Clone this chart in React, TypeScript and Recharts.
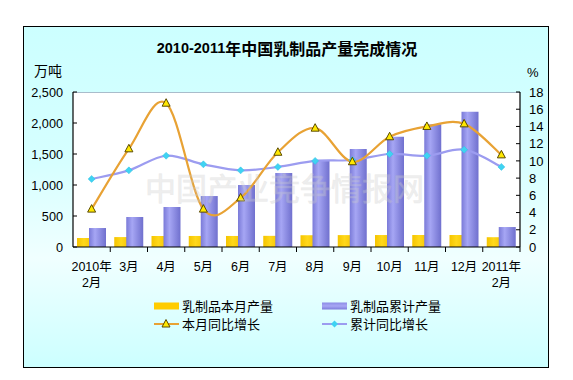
import React from 'react';
import { ComposedChart, Bar, Line, XAxis, YAxis } from 'recharts';

const months = ['2010年2月', '3月', '4月', '5月', '6月', '7月', '8月', '9月', '10月', '11月', '12月', '2011年2月'];
const monthlyOutput = [145, 160, 177, 178, 178, 180, 190, 192, 193, 194, 194, 158];
const cumulativeOutput = [306, 484, 645, 822, 1000, 1193, 1392, 1580, 1779, 1980, 2180, 322];
const monthlyGrowth = [4.4, 11.4, 16.7, 4.4, 5.7, 11.0, 13.8, 9.9, 12.8, 14.0, 14.3, 10.7];
const cumulativeGrowth = [7.9, 8.9, 10.6, 9.6, 8.9, 9.3, 10.0, 10.1, 10.8, 10.6, 11.3, 9.3];
const leftTicks = [0, 500, 1000, 1500, 2000, 2500];
const rightTicks = [0, 2, 4, 6, 8, 10, 12, 14, 16, 18];

const seriesNames = ['乳制品本月产量', '乳制品累计产量', '本月同比增长', '累计同比增长'];
const titleYears = '2010-2011';
const titleRest = '年中国乳制品产量完成情况';
const leftUnit = '万吨';
const rightUnit = '%';
const watermark = '中国产业竞争情报网';

const data = months.map((m, i) => ({
  month: m,
  monthly: monthlyOutput[i],
  cumulative: cumulativeOutput[i],
  mGrowth: monthlyGrowth[i],
  cGrowth: cumulativeGrowth[i],
}));

const FONT = '"Liberation Sans", Arial, "Noto Sans CJK SC", sans-serif';
const PLOT_L = 73;
const PLOT_R = 520;
const PLOT_T = 92;
const PLOT_B = 247;
const HALF_BAND = (PLOT_R - PLOT_L) / months.length / 2;

const ORANGE = '#E8A234';
const LAVENDER = '#9C9CF0';

// Catmull-Rom style smoothing (like Excel smoothed lines)
const smoothCurve: any = (context: any) => {
  let pts: number[][] = [];
  return {
    areaStart() {},
    areaEnd() {},
    lineStart() {
      pts = [];
    },
    point(x: number, y: number) {
      pts.push([+x, +y]);
    },
    lineEnd() {
      if (!pts.length) return;
      context.moveTo(pts[0][0], pts[0][1]);
      const t = 1 / 6;
      for (let i = 0; i < pts.length - 1; i++) {
        const p0 = pts[i - 1] || pts[i];
        const p1 = pts[i];
        const p2 = pts[i + 1];
        const p3 = pts[i + 2] || p2;
        context.bezierCurveTo(
          p1[0] + (p2[0] - p0[0]) * t,
          p1[1] + (p2[1] - p0[1]) * t,
          p2[0] - (p3[0] - p1[0]) * t,
          p2[1] - (p3[1] - p1[1]) * t,
          p2[0],
          p2[1]
        );
      }
    },
  };
};

const XTick = (props: any) => {
  const { x, y, payload } = props;
  const label = String(payload.value);
  const k = label.indexOf('年');
  const lines = k >= 0 ? [label.slice(0, k + 1), label.slice(k + 1)] : [label];
  return (
    <g>
      <line x1={x + HALF_BAND} x2={x + HALF_BAND} y1={y} y2={y + 5} stroke="#000" />
      {lines.map((l, i) => (
        <text key={i} x={x} y={y + 24 + i * 16} textAnchor="middle" fontSize={12.5} fontFamily={FONT} fill="#000">
          {l}
        </text>
      ))}
    </g>
  );
};

const LeftTick = (props: any) => {
  const { x, y, payload } = props;
  return (
    <g>
      <line x1={x} x2={x + 4} y1={y} y2={y} stroke="#000" />
      <text x={x - 10} y={y} dy="0.36em" textAnchor="end" fontSize={12.7} fontFamily={FONT} fill="#000">
        {Number(payload.value).toLocaleString('en-US')}
      </text>
    </g>
  );
};

const RightTick = (props: any) => {
  const { x, y, payload } = props;
  return (
    <g>
      <line x1={x - 4} x2={x} y1={y} y2={y} stroke="#000" />
      <text x={x + 9} y={y} dy="0.36em" textAnchor="start" fontSize={13} fontFamily={FONT} fill="#000">
        {payload.value}
      </text>
    </g>
  );
};

const TriangleDot = (props: any) => {
  const { cx, cy, index } = props;
  if (cx == null || cy == null) return <g key={index} />;
  return (
    <polygon
      key={index}
      points={`${cx},${cy - 4.5} ${cx - 4},${cy + 3} ${cx + 4},${cy + 3}`}
      fill="#FFE800"
      stroke="#5A4A00"
      strokeWidth={1}
    />
  );
};

const DiamondDot = (props: any) => {
  const { cx, cy, index } = props;
  if (cx == null || cy == null) return <g key={index} />;
  return (
    <polygon
      key={index}
      points={`${cx},${cy - 3.5} ${cx + 3.5},${cy} ${cx},${cy + 3.5} ${cx - 3.5},${cy}`}
      fill="#3FD3F2"
      stroke="#33C0E0"
      strokeWidth={0.5}
    />
  );
};

export default function App() {
  return (
    <div style={{ position: 'absolute', left: 0, top: 0, width: 573, height: 380, background: '#fff', overflow: 'hidden' }}>
      <div
        style={{
          position: 'absolute',
          left: 23,
          top: 26,
          width: 526,
          height: 342,
          boxSizing: 'border-box',
          border: '1.6px solid #000',
          background: 'linear-gradient(to bottom, #CCFFFF 0%, #D6FFFF 40%, #F0FFFF 68%, #E0FFFF 82%, #CCFFFF 100%)',
        }}
      />
      <div
        style={{
          position: 'absolute',
          left: PLOT_L,
          top: PLOT_T,
          width: PLOT_R - PLOT_L,
          height: PLOT_B - PLOT_T,
          background: '#fff',
          borderTop: '1px solid #A9BCCB',
          boxSizing: 'border-box',
        }}
      />
      <div style={{ position: 'absolute', left: 0, top: 0 }}>
        <ComposedChart
          width={573}
          height={380}
          data={data}
          margin={{ top: PLOT_T, right: 573 - PLOT_R - 50, bottom: 380 - PLOT_B - 40, left: PLOT_L - 50 }}
          barGap={-5}
        >
          <defs>
            <linearGradient id="purpleGrad" x1="0" y1="0" x2="1" y2="0">
              <stop offset="0%" stopColor="#7A7AD8" />
              <stop offset="35%" stopColor="#A6A6F4" />
              <stop offset="100%" stopColor="#7070CE" />
            </linearGradient>
            <linearGradient id="yellowGrad" x1="0" y1="0" x2="1" y2="0">
              <stop offset="0%" stopColor="#F5C400" />
              <stop offset="40%" stopColor="#FFD81A" />
              <stop offset="100%" stopColor="#F2C000" />
            </linearGradient>
          </defs>
          <XAxis
            dataKey="month"
            height={40}
            interval={0}
            axisLine={{ stroke: '#000', strokeWidth: 1.2 }}
            tickLine={false}
            tickSize={0}
            tickMargin={0}
            tick={<XTick />}
          />
          <YAxis
            yAxisId="left"
            orientation="left"
            width={50}
            domain={[0, 2500]}
            ticks={leftTicks}
            interval={0}
            axisLine={{ stroke: '#000', strokeWidth: 1.2 }}
            tickLine={false}
            tickSize={0}
            tickMargin={0}
            tick={<LeftTick />}
          />
          <YAxis
            yAxisId="right"
            orientation="right"
            width={50}
            domain={[0, 18]}
            ticks={rightTicks}
            interval={0}
            axisLine={{ stroke: '#000', strokeWidth: 1.2 }}
            tickLine={false}
            tickSize={0}
            tickMargin={0}
            tick={<RightTick />}
          />
          <Bar yAxisId="left" dataKey="monthly" name={seriesNames[0]} fill="url(#yellowGrad)" barSize={17} isAnimationActive={false} />
          <Bar yAxisId="left" dataKey="cumulative" name={seriesNames[1]} fill="url(#purpleGrad)" barSize={17} isAnimationActive={false} />
          <Line
            yAxisId="right"
            dataKey="cGrowth"
            name={seriesNames[3]}
            type={smoothCurve}
            stroke={LAVENDER}
            strokeWidth={2.2}
            dot={DiamondDot}
            activeDot={false}
            isAnimationActive={false}
          />
          <Line
            yAxisId="right"
            dataKey="mGrowth"
            name={seriesNames[2]}
            type={smoothCurve}
            stroke={ORANGE}
            strokeWidth={2.2}
            dot={TriangleDot}
            activeDot={false}
            isAnimationActive={false}
          />
        </ComposedChart>
      </div>
      <svg width={573} height={380} style={{ position: 'absolute', left: 0, top: 0, pointerEvents: 'none' }}>
        <text x={145} y={186} fontSize={31} fontFamily='"Noto Sans CJK SC", sans-serif' fill="#D0D0D0" stroke="#C4C4C4" strokeWidth={0.6} opacity={0.35} dominantBaseline="central">
          {watermark}
        </text>
        <text x={287} y={48} textAnchor="middle" dominantBaseline="central" fontWeight="bold" fill="#000">
          <tspan fontSize={14.5} fontFamily={FONT}>{titleYears}</tspan>
          <tspan fontSize={16} fontFamily='"Noto Sans CJK SC", sans-serif'>{titleRest}</tspan>
        </text>
        <text x={34} y={71} dominantBaseline="central" fontSize={14} fontFamily={FONT} fill="#000">
          {leftUnit}
        </text>
        <text x={527} y={72} dominantBaseline="central" fontSize={13} fontFamily={FONT} fill="#000">
          {rightUnit}
        </text>
        {/* legend */}
        <rect x={154} y={302.5} width={25} height={7} fill="#FFCC00" />
        <text x={182} y={306} dominantBaseline="central" fontSize={13} fontFamily={FONT} fill="#000">
          {seriesNames[0]}
        </text>
        <rect x={322} y={302.5} width={25} height={7} fill="url(#legendPurple)" />
        <defs>
          <linearGradient id="legendPurple" x1="0" y1="0" x2="0" y2="1">
            <stop offset="0%" stopColor="#8C8CE6" />
            <stop offset="50%" stopColor="#A8A8F4" />
            <stop offset="100%" stopColor="#7C7CDA" />
          </linearGradient>
        </defs>
        <text x={350} y={306} dominantBaseline="central" fontSize={13} fontFamily={FONT} fill="#000">
          {seriesNames[1]}
        </text>
        <line x1={154} x2={179} y1={324} y2={324} stroke={ORANGE} strokeWidth={2} />
        <polygon points="166,319.5 162,327 170,327" fill="#FFE800" stroke="#5A4A00" strokeWidth={1} />
        <text x={182} y={324} dominantBaseline="central" fontSize={13} fontFamily={FONT} fill="#000">
          {seriesNames[2]}
        </text>
        <line x1={322} x2={347} y1={324} y2={324} stroke={LAVENDER} strokeWidth={2} />
        <polygon points="334.5,320.5 338,324 334.5,327.5 331,324" fill="#3FD3F2" />
        <text x={350} y={324} dominantBaseline="central" fontSize={13} fontFamily={FONT} fill="#000">
          {seriesNames[3]}
        </text>
      </svg>
    </div>
  );
}
